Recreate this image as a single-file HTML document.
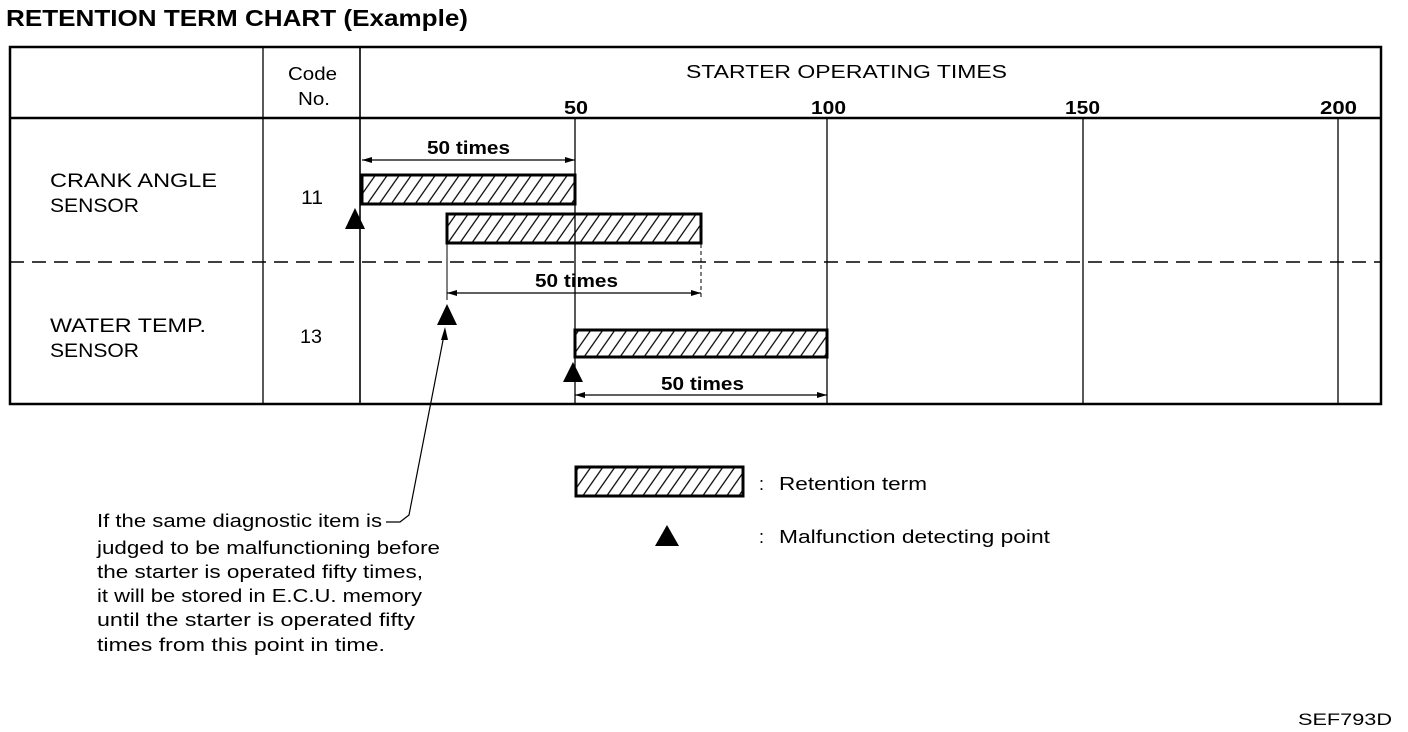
<!DOCTYPE html>
<html><head><meta charset="utf-8"><style>
html,body{margin:0;padding:0;background:#fff;}
svg{display:block;}
text{font-family:"Liberation Sans",sans-serif;fill:#000;}
</style></head><body>
<svg width="1408" height="732" viewBox="0 0 1408 732" xmlns="http://www.w3.org/2000/svg">
<defs>
<pattern id="h" patternUnits="userSpaceOnUse" width="12" height="12" patternTransform="skewX(-35)">
<line x1="6" y1="0" x2="6" y2="12" stroke="#000" stroke-width="1.5"/>
</pattern>
<marker id="ar" viewBox="0 0 10 6" refX="10" refY="3" markerWidth="10" markerHeight="6" orient="auto-start-reverse" markerUnits="userSpaceOnUse"><path d="M0,0 L10,3 L0,6 z" fill="#000"/></marker>
</defs>
<text x="6" y="26" font-size="23" font-weight="bold" textLength="462" lengthAdjust="spacingAndGlyphs">RETENTION TERM CHART (Example)</text>
<!-- table -->
<rect x="10" y="47" width="1371" height="357" fill="none" stroke="#000" stroke-width="2.5"/>
<line x1="10" y1="118" x2="1381" y2="118" stroke="#000" stroke-width="2.5"/>
<line x1="263" y1="47" x2="263" y2="404" stroke="#000" stroke-width="1.3"/>
<line x1="360" y1="47" x2="360" y2="404" stroke="#000" stroke-width="1.6"/>
<line x1="575" y1="118" x2="575" y2="404" stroke="#000" stroke-width="1.3"/>
<line x1="827" y1="118" x2="827" y2="404" stroke="#000" stroke-width="1.3"/>
<line x1="1083" y1="118" x2="1083" y2="404" stroke="#000" stroke-width="1.3"/>
<line x1="1338" y1="118" x2="1338" y2="404" stroke="#000" stroke-width="1.3"/>
<line x1="10" y1="262" x2="1381" y2="262" stroke="#000" stroke-width="1.5" stroke-dasharray="14,8"/>
<line x1="447" y1="244" x2="447" y2="300" stroke="#000" stroke-width="1"/>
<line x1="701" y1="244" x2="701" y2="300" stroke="#000" stroke-width="1" stroke-dasharray="4,3"/>
<!-- header text -->
<text x="288" y="80" font-size="18" textLength="49" lengthAdjust="spacingAndGlyphs">Code</text>
<text x="298" y="105" font-size="18" textLength="32" lengthAdjust="spacingAndGlyphs">No.</text>
<text x="686" y="78" font-size="18" textLength="321" lengthAdjust="spacingAndGlyphs">STARTER OPERATING TIMES</text>
<text x="564" y="114" font-size="18" font-weight="bold" textLength="24" lengthAdjust="spacingAndGlyphs">50</text>
<text x="811" y="114" font-size="18" font-weight="bold" textLength="35" lengthAdjust="spacingAndGlyphs">100</text>
<text x="1065" y="114" font-size="18" font-weight="bold" textLength="35" lengthAdjust="spacingAndGlyphs">150</text>
<text x="1320" y="114" font-size="18" font-weight="bold" textLength="37" lengthAdjust="spacingAndGlyphs">200</text>
<!-- rows -->
<text x="50" y="187" font-size="19" textLength="167" lengthAdjust="spacingAndGlyphs">CRANK ANGLE</text>
<text x="50" y="212" font-size="19" textLength="89" lengthAdjust="spacingAndGlyphs">SENSOR</text>
<text x="301" y="204" font-size="19" textLength="22" lengthAdjust="spacingAndGlyphs">11</text>
<text x="50" y="332" font-size="19" textLength="156" lengthAdjust="spacingAndGlyphs">WATER TEMP.</text>
<text x="50" y="357" font-size="19" textLength="89" lengthAdjust="spacingAndGlyphs">SENSOR</text>
<text x="300" y="343" font-size="19" textLength="22" lengthAdjust="spacingAndGlyphs">13</text>
<!-- bars -->
<rect x="362" y="175" width="213" height="29" fill="url(#h)" stroke="#000" stroke-width="3"/>
<rect x="447" y="214" width="254" height="29" fill="url(#h)" stroke="#000" stroke-width="3"/>
<rect x="575" y="330" width="252" height="27" fill="url(#h)" stroke="#000" stroke-width="3"/>
<!-- dims -->
<line x1="362" y1="160" x2="575" y2="160" stroke="#000" stroke-width="1.2" marker-start="url(#ar)" marker-end="url(#ar)"/>
<text x="427" y="154" font-size="18" font-weight="bold" textLength="83" lengthAdjust="spacingAndGlyphs">50 times</text>
<line x1="447" y1="293" x2="701" y2="293" stroke="#000" stroke-width="1.2" marker-start="url(#ar)" marker-end="url(#ar)"/>
<text x="535" y="287" font-size="18" font-weight="bold" textLength="83" lengthAdjust="spacingAndGlyphs">50 times</text>
<line x1="575" y1="395" x2="827" y2="395" stroke="#000" stroke-width="1.2" marker-start="url(#ar)" marker-end="url(#ar)"/>
<text x="661" y="390" font-size="18" font-weight="bold" textLength="83" lengthAdjust="spacingAndGlyphs">50 times</text>
<!-- triangles -->
<polygon points="355,208 345,229 365,229" fill="#000"/>
<polygon points="447,304 437,325 457,325" fill="#000"/>
<polygon points="573,362 563,382 583,382" fill="#000"/>
<!-- leader -->
<polyline points="445,330 409,515 400,522 386,522" fill="none" stroke="#000" stroke-width="1.2"/>
<polygon points="445,327 441,340 448,340" fill="#000"/>
<!-- note -->
<g font-size="18">
<text x="97" y="527" textLength="285" lengthAdjust="spacingAndGlyphs">If the same diagnostic item is</text>
<text x="97" y="554" textLength="343" lengthAdjust="spacingAndGlyphs">judged to be malfunctioning before</text>
<text x="97" y="578" textLength="326" lengthAdjust="spacingAndGlyphs">the starter is operated fifty times,</text>
<text x="97" y="602" textLength="325" lengthAdjust="spacingAndGlyphs">it will be stored in E.C.U. memory</text>
<text x="97" y="626" textLength="318" lengthAdjust="spacingAndGlyphs">until the starter is operated fifty</text>
<text x="97" y="651" textLength="288" lengthAdjust="spacingAndGlyphs">times from this point in time.</text>
</g>
<!-- legend -->
<rect x="576" y="467" width="167" height="29" fill="url(#h)" stroke="#000" stroke-width="3"/>
<text x="759" y="490" font-size="18">:</text>
<text x="779" y="490" font-size="18" textLength="148" lengthAdjust="spacingAndGlyphs">Retention term</text>
<polygon points="667,525 655,546 679,546" fill="#000"/>
<text x="759" y="543" font-size="18">:</text>
<text x="779" y="543" font-size="18" textLength="271" lengthAdjust="spacingAndGlyphs">Malfunction detecting point</text>
<text x="1298" y="725" font-size="17" textLength="94" lengthAdjust="spacingAndGlyphs">SEF793D</text>
</svg>
</body></html>
